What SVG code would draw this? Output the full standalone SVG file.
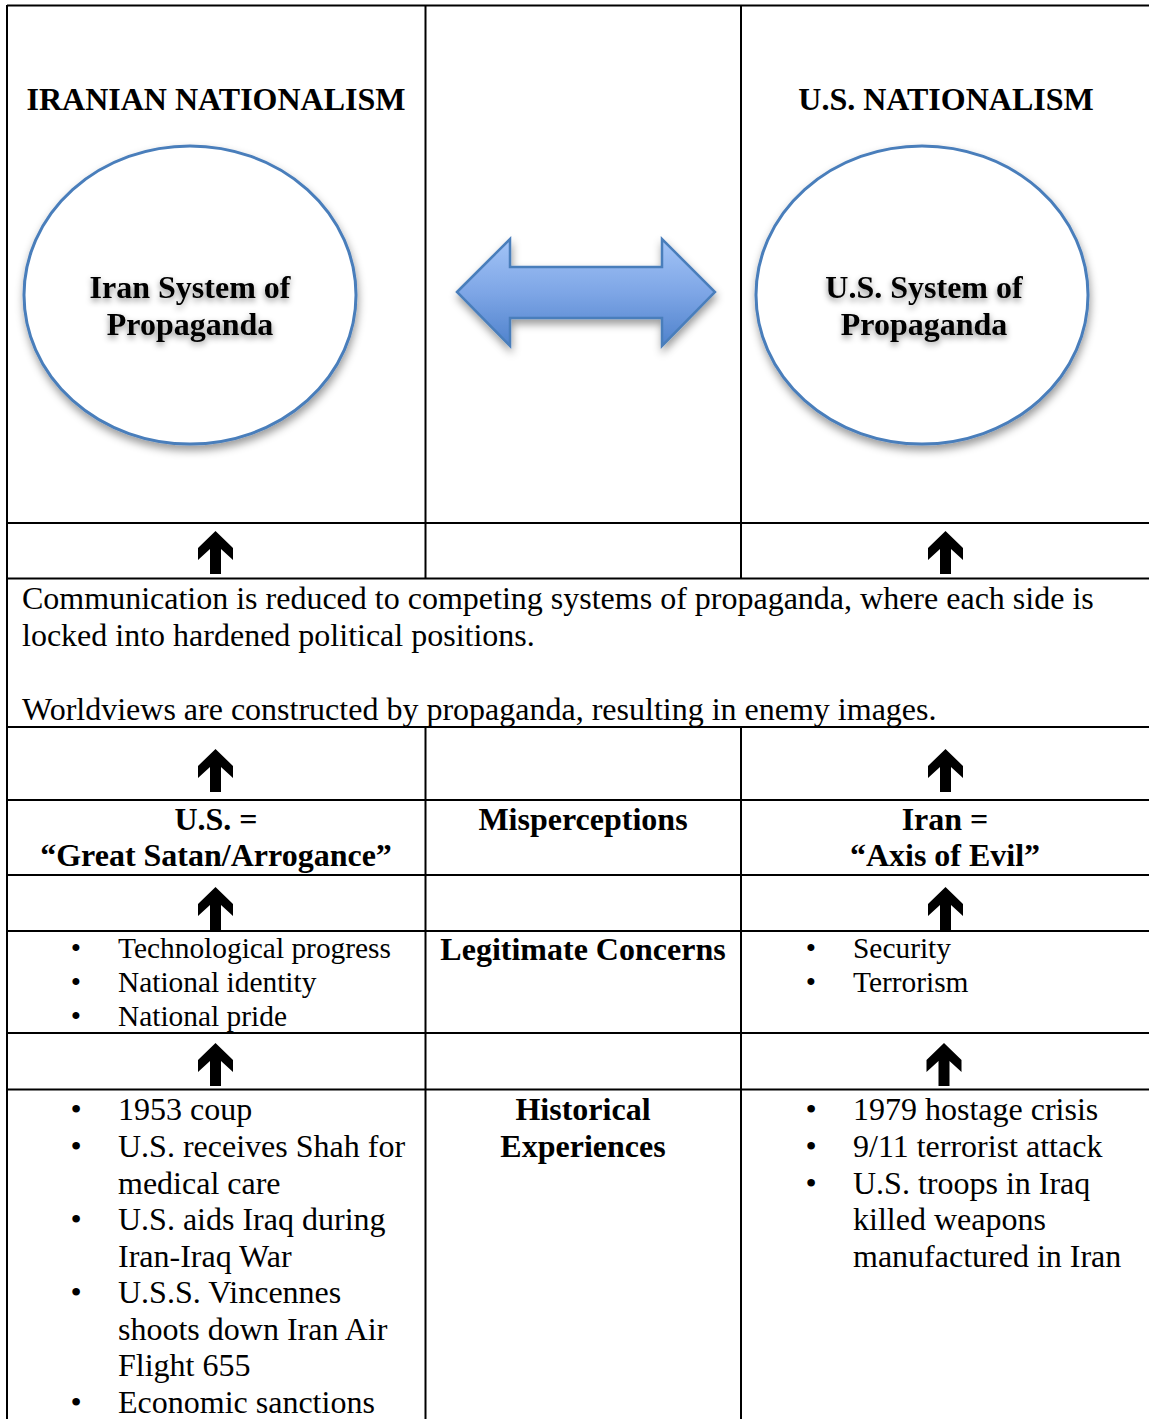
<svg xmlns="http://www.w3.org/2000/svg" width="1149" height="1419" viewBox="0 0 1149 1419">
<style>
  text { font-family: "Liberation Serif", "Times New Roman", serif; fill: #000; }
  .h { font-size: 32px; font-weight: bold; }
  .b { font-size: 32px; }
  .s { font-size: 29.4px; }
  .c { text-anchor: middle; }
  .grid { stroke: #000; stroke-width: 2; fill: none; }
  .circ { fill: #fff; stroke: #4a7ebb; stroke-width: 3; }
  .up { fill: #000; }
</style>
<defs>
  <filter id="shadow" x="-20%" y="-20%" width="140%" height="150%">
    <feDropShadow dx="1" dy="5" stdDeviation="4" flood-color="#000" flood-opacity="0.4"/>
  </filter>
  <filter id="tshadow" x="-10%" y="-30%" width="120%" height="180%">
    <feDropShadow dx="0" dy="3" stdDeviation="3" flood-color="#000" flood-opacity="0.45"/>
  </filter>
  <linearGradient id="blueGrad" x1="0" y1="0" x2="0" y2="1">
    <stop offset="0" stop-color="#a3c4f7"/>
    <stop offset="0.5" stop-color="#7ea6e6"/>
    <stop offset="1" stop-color="#4f82cc"/>
  </linearGradient>
  <path id="uparrow" d="M0,0 L17.5,17 L17.5,29 L5.5,18 L5.5,43 L-5.5,43 L-5.5,18 L-17.5,29 L-17.5,17 Z"/>
</defs>
<rect width="1149" height="1419" fill="#fff"/>

<g id="grid" class="grid">
  <line x1="7" y1="5.5" x2="1149" y2="5.5"/>
  <line x1="7" y1="5" x2="7" y2="1419"/>
  <line x1="425.5" y1="5" x2="425.5" y2="579"/>
  <line x1="741" y1="5" x2="741" y2="579"/>
  <line x1="425.5" y1="727" x2="425.5" y2="1419"/>
  <line x1="741" y1="727" x2="741" y2="1419"/>
  <line x1="7" y1="523" x2="1149" y2="523"/>
  <line x1="7" y1="578.5" x2="1149" y2="578.5"/>
  <line x1="7" y1="727" x2="1149" y2="727"/>
  <line x1="7" y1="800" x2="1149" y2="800"/>
  <line x1="7" y1="875" x2="1149" y2="875"/>
  <line x1="7" y1="931" x2="1149" y2="931"/>
  <line x1="7" y1="1033" x2="1149" y2="1033"/>
  <line x1="7" y1="1089.5" x2="1149" y2="1089.5"/>
</g>

<g id="iranian-nationalism">
  <text class="h c" x="216" y="110">IRANIAN NATIONALISM</text>
</g>
<g id="us-nationalism">
  <text class="h c" x="946" y="110">U.S. NATIONALISM</text>
</g>

<g id="iran-propaganda">
  <ellipse class="circ" cx="190" cy="295" rx="166" ry="149" filter="url(#shadow)"/>
  <g filter="url(#tshadow)">
    <text class="h c" x="190" y="298">Iran System of</text>
    <text class="h c" x="190" y="335">Propaganda</text>
  </g>
</g>
<g id="us-propaganda">
  <ellipse class="circ" cx="922" cy="295" rx="166" ry="149" filter="url(#shadow)"/>
  <g filter="url(#tshadow)">
    <text class="h c" x="924" y="298">U.S. System of</text>
    <text class="h c" x="924" y="335">Propaganda</text>
  </g>
</g>

<g id="communication">
  <text class="b" x="22" y="609">Communication is reduced to competing systems of propaganda, where each side is</text>
  <text class="b" x="22" y="646">locked into hardened political positions.</text>
  <text class="b" x="22" y="720">Worldviews are constructed by propaganda, resulting in enemy images.</text>
</g>

<g id="us-great-satan">
  <text class="h c" x="216" y="830">U.S. =</text>
  <text class="h c" x="216" y="866">“Great Satan/Arrogance”</text>
</g>
<g id="misperceptions">
  <text class="h c" x="583" y="830">Misperceptions</text>
</g>
<g id="iran-axis-of-evil">
  <text class="h c" x="945" y="830">Iran =</text>
  <text class="h c" x="945" y="866">“Axis of Evil”</text>
</g>

<g id="iran-concerns">
  <text class="s c" x="76" y="958">•</text>
  <text class="s" x="118" y="958">Technological progress</text>
  <text class="s c" x="76" y="992">•</text>
  <text class="s" x="118" y="992">National identity</text>
  <text class="s c" x="76" y="1026">•</text>
  <text class="s" x="118" y="1026">National pride</text>
</g>
<g id="legitimate-concerns">
  <text class="h c" x="583" y="960">Legitimate Concerns</text>
</g>
<g id="us-concerns">
  <text class="s c" x="811" y="958">•</text>
  <text class="s" x="853" y="958">Security</text>
  <text class="s c" x="811" y="992">•</text>
  <text class="s" x="853" y="992">Terrorism</text>
</g>

<g id="iran-history">
  <text class="b c" x="76" y="1120">•</text>
  <text class="b" x="118" y="1120">1953 coup</text>
  <text class="b c" x="76" y="1157">•</text>
  <text class="b" x="118" y="1157">U.S. receives Shah for</text>
  <text class="b" x="118" y="1194">medical care</text>
  <text class="b c" x="76" y="1230">•</text>
  <text class="b" x="118" y="1230">U.S. aids Iraq during</text>
  <text class="b" x="118" y="1267">Iran-Iraq War</text>
  <text class="b c" x="76" y="1303">•</text>
  <text class="b" x="118" y="1303">U.S.S. Vincennes</text>
  <text class="b" x="118" y="1340">shoots down Iran Air</text>
  <text class="b" x="118" y="1376">Flight 655</text>
  <text class="b c" x="76" y="1413">•</text>
  <text class="b" x="118" y="1413">Economic sanctions</text>
</g>
<g id="historical-experiences">
  <text class="h c" x="583" y="1120">Historical</text>
  <text class="h c" x="583" y="1157">Experiences</text>
</g>
<g id="us-history">
  <text class="b c" x="811" y="1120">•</text>
  <text class="b" x="853" y="1120">1979 hostage crisis</text>
  <text class="b c" x="811" y="1157">•</text>
  <text class="b" x="853" y="1157">9/11 terrorist attack</text>
  <text class="b c" x="811" y="1194">•</text>
  <text class="b" x="853" y="1194">U.S. troops in Iraq</text>
  <text class="b" x="853" y="1230">killed weapons</text>
  <text class="b" x="853" y="1267">manufactured in Iran</text>
</g>

<g id="connectors">
  <path d="M457,292 L510,239 L510,267 L662,267 L662,239 L715,292 L662,346 L662,318 L510,318 L510,346 Z" fill="url(#blueGrad)" stroke="#4a7ebb" stroke-width="2.5" stroke-linejoin="miter" filter="url(#shadow)"/>
  <use href="#uparrow" class="up" x="215.5" y="531"/>
  <use href="#uparrow" class="up" x="945.5" y="531"/>
  <use href="#uparrow" class="up" x="215.5" y="749"/>
  <use href="#uparrow" class="up" x="945.5" y="749"/>
  <use href="#uparrow" class="up" x="215.5" y="887"/>
  <use href="#uparrow" class="up" x="945.5" y="887"/>
  <use href="#uparrow" class="up" x="215.5" y="1043"/>
  <use href="#uparrow" class="up" x="944" y="1043"/>
</g>
</svg>
